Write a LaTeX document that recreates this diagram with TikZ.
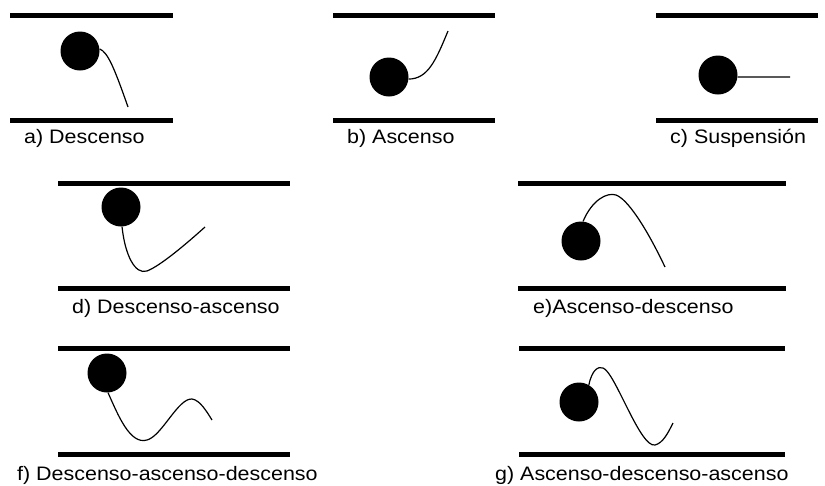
\documentclass[tikz,border=0pt]{standalone}
\usepackage{fontspec}
\setmainfont{Liberation Sans}[FakeStretch=1.1]
\begin{document}
\begin{tikzpicture}[x=1pt,y=-1pt,
  bar/.style={line width=5pt},
  ball/.style={circle,fill=black,minimum size=39pt,inner sep=0pt},
  trace/.style={line width=1.2pt},
  lab/.style={anchor=base west,inner sep=0pt,font=\fontsize{19.5}{21}\selectfont}]
\useasboundingbox (0,0) rectangle (825,485);
% a
\draw[bar] (10,15) -- (173,15);
\draw[bar] (10,120) -- (173,120);
\node[ball] (ba) at (80,51) {};
\draw[trace] (ba.6) .. controls (108,52) and (115,70) .. (128,107);
\node[lab] (la) at (24,143) {a) Descenso};
% b
\draw[bar] (333,15) -- (495,15);
\draw[bar] (333,120) -- (495,120);
\node[ball] (bb) at (389,77) {};
\draw[trace] (bb.-6) .. controls (428,79) and (436,60) .. (448,31);
\node[lab] (lb) at (347,143) {b) Ascenso};
% c
\draw[bar] (656,15) -- (818,15);
\draw[bar] (656,120) -- (818,120);
\node[ball] (bc) at (718,75) {};
\coordinate (ce) at (790,77);
\draw[trace] (bc.-6) -- (ce);
\node[lab] (lc) at (670,143) {c) Suspensión};
% d
\draw[bar] (58,183.5) -- (290,183.5);
\draw[bar] (58,288.5) -- (290,288.5);
\node[ball] (bd) at (121,207) {};
\draw[trace] (bd.-87) .. controls (125,255) and (135,275) .. (147,271) .. controls (160,266) and (185,245) .. (205,227);
\node[lab] (ld) at (72,313) {d) Descenso-ascenso};
% e
\draw[bar] (518,183.5) -- (786,183.5);
\draw[bar] (518,288.5) -- (786,288.5);
\node[ball] (be) at (581,241) {};
\draw[trace] (be.84) .. controls (592,200) and (607,192) .. (616,195) .. controls (627,199) and (645,225) .. (665,267);
\node[lab] (le) at (533,313) {e)Ascenso-descenso};
% f
\draw[bar] (58,348.5) -- (290,348.5);
\draw[bar] (58,454.5) -- (290,454.5);
\node[ball] (bf) at (107,373) {};
\draw[trace] (bf.-87) .. controls (118,415) and (130,445) .. (147,440) .. controls (162,436) and (178,398) .. (192,399) .. controls (200,400) and (207,412) .. (212,420);
\node[lab] (lf) at (17,480) {f) Descenso-ascenso-descenso};
% g
\draw[bar] (519,348.5) -- (785,348.5);
\draw[bar] (519,454.5) -- (785,454.5);
\node[ball] (bg) at (579,402) {};
\draw[trace] (bg.60) .. controls (592,370) and (598,366) .. (603,368) .. controls (615,372) and (640,448) .. (655,445) .. controls (663,443) and (668,433) .. (673,423);
\node[lab] (lg) at (495,480) {g) Ascenso-descenso-ascenso};
\end{tikzpicture}
\end{document}
